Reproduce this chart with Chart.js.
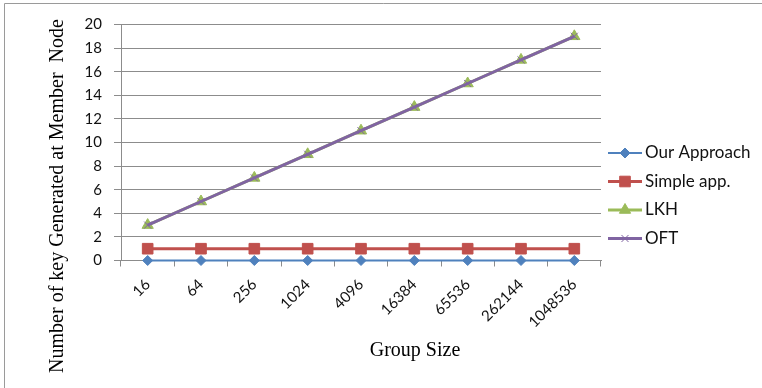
<!DOCTYPE html>
<html>
<head>
<meta charset="utf-8">
<script src="https://cdn.jsdelivr.net/npm/chart.js@4"></script>
<style>
  html, body { margin: 0; padding: 0; background: #fff; }
  #wrap { position: relative; width: 762px; height: 388px; }
</style>
</head>
<body>
<div id="wrap"><canvas id="c" width="762" height="388"></canvas></div>
<script>
// Group sizes (x categories)
const groupSizes = ['16', '64', '256', '1024', '4096', '16384', '65536', '262144', '1048536'];

// Keys generated at a member node, per scheme
const ourApproach = [0, 0, 0, 0, 0, 0, 0, 0, 0];
const simpleApp   = [1, 1, 1, 1, 1, 1, 1, 1, 1];
const lkh         = [3, 5, 7, 9, 11, 13, 15, 17, 19];
const oft         = [3, 5, 7, 9, 11, 13, 15, 17, 19];

const seriesNames = ['Our Approach', 'Simple app.', 'LKH', 'OFT'];
const yTicks = [0, 2, 4, 6, 8, 10, 12, 14, 16, 18, 20];

const xTitle = 'Group Size';
const yTitle = 'Number of key Generated at Member  Node';

const tickFont = { family: 'Lato, "Open Sans", sans-serif', size: 15 };
const titleFont = '20px "Liberation Serif", "DejaVu Serif", serif';
const legendFont = '17px Lato, "Open Sans", sans-serif';

// Axis titles, legend and outer frame drawn on the canvas
const decorations = {
  id: 'decorations',
  afterDraw(chart) {
    const ctx = chart.ctx;
    ctx.save();

    // outer frame (top and left edges)
    ctx.strokeStyle = '#9a9a9a';
    ctx.lineWidth = 1;
    ctx.beginPath();
    ctx.moveTo(4.5, 388);
    ctx.lineTo(4.5, 3.5);
    ctx.lineTo(762, 3.5);
    ctx.stroke();

    // axis titles
    ctx.fillStyle = '#000';
    ctx.font = titleFont;
    ctx.textAlign = 'center';
    ctx.textBaseline = 'middle';
    ctx.fillText(xTitle, 415, 351);
    ctx.save();
    ctx.translate(58, 196);
    ctx.rotate(-Math.PI / 2);
    ctx.fillText(yTitle, 0, 0);
    ctx.restore();

    // legend: line sample with marker, then label
    const rowsY = [153, 181.5, 210, 238.5];
    chart.data.datasets.forEach((ds, i) => {
      const y = rowsY[i];
      ctx.strokeStyle = ds.borderColor;
      ctx.lineWidth = ds.borderWidth;
      ctx.beginPath();
      ctx.moveTo(608, y);
      ctx.lineTo(642, y);
      ctx.stroke();
      ctx.fillStyle = ds.pointBackgroundColor;
      ctx.strokeStyle = ds.pointBorderColor;
      ctx.lineWidth = ds.pointBorderWidth;
      Chart.helpers.drawPoint(ctx, {
        pointStyle: ds.pointStyle,
        radius: ds.pointRadius,
        borderWidth: ds.pointBorderWidth,
        rotation: 0
      }, 625, y);
      ctx.fillStyle = '#111';
      ctx.font = legendFont;
      ctx.textAlign = 'left';
      ctx.textBaseline = 'middle';
      ctx.fillText(ds.label, 645, y);
    });
    ctx.restore();
  }
};

const chart = new Chart(document.getElementById('c'), {
  type: 'line',
  data: {
    labels: groupSizes,
    datasets: [
      {
        label: seriesNames[0], data: ourApproach, order: 3, clip: false,
        borderColor: '#4F81BD', backgroundColor: '#4F81BD',
        pointBackgroundColor: '#4F81BD', pointBorderColor: '#4F81BD',
        borderWidth: 2, pointStyle: 'rectRot', pointRadius: 5, pointBorderWidth: 1
      },
      {
        label: seriesNames[1], data: simpleApp, order: 2, clip: false,
        borderColor: '#C0504D', backgroundColor: '#C0504D',
        pointBackgroundColor: '#C0504D', pointBorderColor: '#C0504D',
        borderWidth: 3, pointStyle: 'rect', pointRadius: 7.5, pointBorderWidth: 1
      },
      {
        label: seriesNames[2], data: lkh, order: 1, clip: false,
        borderColor: '#9BBB59', backgroundColor: '#9BBB59',
        pointBackgroundColor: '#9BBB59', pointBorderColor: '#9BBB59',
        borderWidth: 3, pointStyle: 'triangle', pointRadius: 6.5, pointBorderWidth: 1
      },
      {
        label: seriesNames[3], data: oft, order: 0, clip: false,
        borderColor: '#8064A2', backgroundColor: '#8064A2',
        pointBackgroundColor: '#8064A2', pointBorderColor: '#8064A2',
        borderWidth: 3, pointStyle: 'crossRot', pointRadius: 5, pointBorderWidth: 1
      }
    ]
  },
  options: {
    responsive: false,
    animation: false,
    events: [],
    layout: { padding: { left: 0, top: 24.5, right: 161, bottom: 0 } },
    plugins: { legend: { display: false }, tooltip: { enabled: false } },
    scales: {
      x: {
        offset: true,
        grid: {
          offset: true, drawOnChartArea: false, drawTicks: true,
          tickLength: 6, color: '#8c8c8c'
        },
        border: { color: '#8c8c8c', width: 1 },
        ticks: {
          font: tickFont, color: '#111', minRotation: 45, maxRotation: 45,
          padding: 9, autoSkip: false
        },
        afterFit(s) { s.height = 388 - 260.5; }
      },
      y: {
        min: 0, max: 20,
        afterBuildTicks(s) { s.ticks = yTicks.map(v => ({ value: v })); },
        grid: { color: '#8c8c8c', tickLength: 7, drawTicks: true },
        border: { color: '#8c8c8c', width: 1 },
        ticks: { font: tickFont, color: '#111', padding: 12 },
        afterFit(s) { s.width = 121; }
      }
    }
  },
  plugins: [decorations]
});
</script>
</body>
</html>
